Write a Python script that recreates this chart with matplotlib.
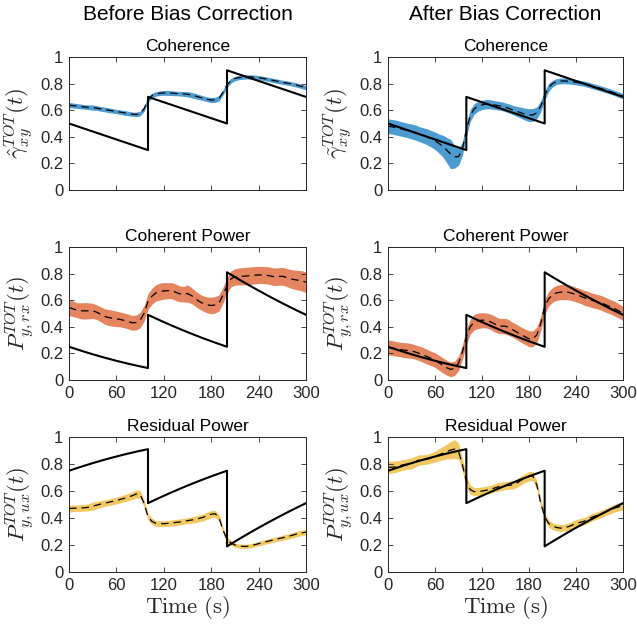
import numpy as np
import matplotlib
matplotlib.use("Agg")
import matplotlib.pyplot as plt

plt.rcParams['font.family'] = ['Liberation Sans', 'DejaVu Sans']
plt.rcParams['mathtext.fontset'] = 'cm'

# ---------------- data ----------------
t = list(range(0, 301, 5))

# ground-truth curves (time, value)
t_true = [0, 10, 20, 30, 40, 50, 60, 70, 80, 90, 100,
          100, 110, 120, 130, 140, 150, 160, 170, 180, 190, 200,
          200, 210, 220, 230, 240, 250, 260, 270, 280, 290, 300]
coh_true = [0.50, 0.48, 0.46, 0.44, 0.42, 0.40, 0.38, 0.36, 0.34, 0.32, 0.30,
            0.70, 0.68, 0.66, 0.64, 0.62, 0.60, 0.58, 0.56, 0.54, 0.52, 0.50,
            0.90, 0.88, 0.86, 0.84, 0.82, 0.80, 0.78, 0.76, 0.74, 0.72, 0.70]
cpow_true = [0.25, 0.2304, 0.2116, 0.1936, 0.1764, 0.16, 0.1444, 0.1296, 0.1156, 0.1024, 0.09,
             0.49, 0.4624, 0.4356, 0.4096, 0.3844, 0.36, 0.3364, 0.3136, 0.2916, 0.2704, 0.25,
             0.81, 0.7744, 0.7396, 0.7056, 0.6724, 0.64, 0.6084, 0.5776, 0.5476, 0.5184, 0.49]
rpow_true = [0.75, 0.7696, 0.7884, 0.8064, 0.8236, 0.84, 0.8556, 0.8704, 0.8844, 0.8976, 0.91,
             0.51, 0.5376, 0.5644, 0.5904, 0.6156, 0.64, 0.6636, 0.6864, 0.7084, 0.7296, 0.75,
             0.19, 0.2256, 0.2604, 0.2944, 0.3276, 0.36, 0.3916, 0.4224, 0.4524, 0.4816, 0.51]

# estimated means and band half-widths
coh_before = [0.638, 0.635, 0.632, 0.628, 0.624, 0.622, 0.620, 0.616, 0.610, 0.606,
              0.600, 0.595, 0.590, 0.585, 0.580, 0.575, 0.570, 0.568, 0.575, 0.610,
              0.680, 0.710, 0.722, 0.728, 0.730, 0.730, 0.728, 0.726, 0.724, 0.722,
              0.720, 0.714, 0.706, 0.698, 0.690, 0.682, 0.676, 0.678, 0.690, 0.735,
              0.790, 0.822, 0.838, 0.845, 0.848, 0.850, 0.850, 0.848, 0.845, 0.840,
              0.834, 0.828, 0.822, 0.816, 0.810, 0.805, 0.800, 0.794, 0.786, 0.778,
              0.770]
coh_before_hw = [0.020, 0.019, 0.018, 0.018, 0.017, 0.018, 0.020, 0.018, 0.017, 0.018,
                 0.018, 0.017, 0.016, 0.017, 0.018, 0.017, 0.016, 0.017, 0.018, 0.020,
                 0.020, 0.018, 0.017, 0.017, 0.018, 0.019, 0.018, 0.017, 0.017, 0.018,
                 0.020, 0.021, 0.020, 0.019, 0.018, 0.018, 0.019, 0.020, 0.020, 0.020,
                 0.020, 0.018, 0.017, 0.016, 0.016, 0.016, 0.016, 0.016, 0.016, 0.016,
                 0.016, 0.016, 0.016, 0.016, 0.016, 0.016, 0.016, 0.016, 0.016, 0.016,
                 0.016]
coh_after = [0.480, 0.475, 0.470, 0.462, 0.455, 0.448, 0.440, 0.432, 0.420, 0.410,
             0.400, 0.385, 0.370, 0.350, 0.330, 0.300, 0.270, 0.250, 0.250, 0.310,
             0.450, 0.560, 0.610, 0.630, 0.640, 0.645, 0.645, 0.640, 0.635, 0.630,
             0.622, 0.612, 0.600, 0.590, 0.580, 0.570, 0.563, 0.565, 0.580, 0.630,
             0.710, 0.770, 0.800, 0.815, 0.820, 0.820, 0.818, 0.815, 0.810, 0.805,
             0.800, 0.792, 0.783, 0.775, 0.766, 0.757, 0.748, 0.738, 0.727, 0.716,
             0.705]
coh_after_hw = [0.055, 0.055, 0.056, 0.055, 0.054, 0.055, 0.056, 0.057, 0.056, 0.058,
                0.060, 0.062, 0.066, 0.072, 0.082, 0.095, 0.110, 0.085, 0.065, 0.050,
                0.050, 0.045, 0.040, 0.037, 0.035, 0.035, 0.034, 0.033, 0.033, 0.033,
                0.033, 0.034, 0.035, 0.038, 0.042, 0.045, 0.048, 0.048, 0.045, 0.040,
                0.035, 0.030, 0.025, 0.022, 0.022, 0.021, 0.021, 0.020, 0.020, 0.020,
                0.020, 0.020, 0.020, 0.020, 0.020, 0.020, 0.020, 0.020, 0.020, 0.020,
                0.020]
cpow_before = [0.545, 0.535, 0.525, 0.520, 0.520, 0.520, 0.520, 0.510, 0.495, 0.478,
               0.470, 0.465, 0.460, 0.455, 0.448, 0.440, 0.430, 0.432, 0.450, 0.500,
               0.590, 0.630, 0.655, 0.665, 0.670, 0.672, 0.672, 0.660, 0.648, 0.645,
               0.650, 0.635, 0.612, 0.590, 0.575, 0.565, 0.560, 0.565, 0.580, 0.640,
               0.710, 0.760, 0.775, 0.778, 0.780, 0.782, 0.785, 0.788, 0.790, 0.790,
               0.788, 0.782, 0.776, 0.778, 0.780, 0.772, 0.762, 0.755, 0.750, 0.745,
               0.735]
cpow_before_hw = [0.060, 0.058, 0.056, 0.060, 0.062, 0.060, 0.057, 0.055, 0.056, 0.058,
                  0.060, 0.060, 0.058, 0.056, 0.055, 0.056, 0.055, 0.056, 0.058, 0.060,
                  0.060, 0.060, 0.062, 0.064, 0.062, 0.060, 0.060, 0.062, 0.060, 0.058,
                  0.065, 0.060, 0.058, 0.057, 0.058, 0.060, 0.062, 0.062, 0.060, 0.060,
                  0.060, 0.060, 0.062, 0.064, 0.065, 0.066, 0.066, 0.065, 0.064, 0.064,
                  0.065, 0.066, 0.066, 0.066, 0.067, 0.068, 0.070, 0.072, 0.074, 0.076,
                  0.078]
cpow_after = [0.245, 0.240, 0.235, 0.230, 0.225, 0.222, 0.218, 0.210, 0.200, 0.188,
              0.175, 0.162, 0.150, 0.130, 0.110, 0.092, 0.080, 0.088, 0.125, 0.210,
              0.325, 0.400, 0.435, 0.445, 0.450, 0.448, 0.440, 0.425, 0.410, 0.405,
              0.405, 0.392, 0.375, 0.358, 0.340, 0.325, 0.310, 0.310, 0.340, 0.425,
              0.550, 0.610, 0.640, 0.655, 0.660, 0.662, 0.660, 0.652, 0.642, 0.632,
              0.620, 0.610, 0.600, 0.592, 0.585, 0.573, 0.560, 0.548, 0.535, 0.518,
              0.500]
cpow_after_hw = [0.055, 0.056, 0.055, 0.054, 0.056, 0.057, 0.055, 0.054, 0.055, 0.056,
                 0.055, 0.054, 0.055, 0.056, 0.057, 0.056, 0.055, 0.054, 0.055, 0.056,
                 0.056, 0.056, 0.058, 0.058, 0.057, 0.056, 0.058, 0.060, 0.058, 0.056,
                 0.060, 0.058, 0.056, 0.057, 0.058, 0.058, 0.060, 0.060, 0.058, 0.056,
                 0.056, 0.055, 0.055, 0.056, 0.057, 0.058, 0.057, 0.056, 0.055, 0.055,
                 0.056, 0.056, 0.055, 0.054, 0.055, 0.056, 0.055, 0.054, 0.055, 0.054,
                 0.053]
rpow_before = [0.470, 0.472, 0.473, 0.474, 0.476, 0.480, 0.488, 0.495, 0.503, 0.510,
               0.516, 0.523, 0.530, 0.538, 0.546, 0.555, 0.565, 0.578, 0.575, 0.510,
               0.410, 0.375, 0.360, 0.358, 0.358, 0.360, 0.363, 0.367, 0.370, 0.375,
               0.380, 0.385, 0.390, 0.398, 0.405, 0.418, 0.428, 0.432, 0.400, 0.310,
               0.240, 0.215, 0.200, 0.192, 0.190, 0.190, 0.195, 0.202, 0.210, 0.218,
               0.225, 0.232, 0.240, 0.247, 0.253, 0.260, 0.268, 0.276, 0.285, 0.290,
               0.295]
rpow_before_hw = [0.026, 0.025, 0.024, 0.025, 0.025, 0.026, 0.030, 0.027, 0.025, 0.024,
                  0.024, 0.025, 0.025, 0.026, 0.026, 0.027, 0.028, 0.030, 0.030, 0.028,
                  0.025, 0.024, 0.022, 0.022, 0.022, 0.022, 0.023, 0.023, 0.022, 0.022,
                  0.022, 0.023, 0.024, 0.025, 0.026, 0.027, 0.026, 0.025, 0.024, 0.022,
                  0.020, 0.018, 0.016, 0.016, 0.016, 0.016, 0.016, 0.016, 0.017, 0.017,
                  0.017, 0.018, 0.018, 0.018, 0.019, 0.019, 0.020, 0.020, 0.020, 0.020,
                  0.020]
rpow_after = [0.775, 0.777, 0.780, 0.787, 0.795, 0.800, 0.805, 0.818, 0.830, 0.832,
              0.835, 0.845, 0.855, 0.868, 0.880, 0.892, 0.903, 0.910, 0.895, 0.795,
              0.670, 0.610, 0.595, 0.596, 0.600, 0.605, 0.610, 0.620, 0.630, 0.635,
              0.640, 0.643, 0.645, 0.660, 0.680, 0.695, 0.710, 0.710, 0.645, 0.510,
              0.410, 0.360, 0.340, 0.330, 0.325, 0.328, 0.335, 0.347, 0.360, 0.368,
              0.375, 0.390, 0.405, 0.415, 0.425, 0.437, 0.450, 0.462, 0.475, 0.483,
              0.490]
rpow_after_hw = [0.045, 0.044, 0.042, 0.040, 0.040, 0.038, 0.042, 0.040, 0.038, 0.036,
                 0.036, 0.038, 0.040, 0.045, 0.050, 0.055, 0.065, 0.070, 0.060, 0.050,
                 0.045, 0.035, 0.030, 0.030, 0.030, 0.030, 0.030, 0.030, 0.032, 0.032,
                 0.030, 0.030, 0.030, 0.032, 0.034, 0.034, 0.034, 0.034, 0.032, 0.030,
                 0.028, 0.026, 0.025, 0.025, 0.025, 0.026, 0.027, 0.028, 0.028, 0.028,
                 0.028, 0.028, 0.028, 0.028, 0.028, 0.028, 0.028, 0.028, 0.028, 0.030,
                 0.030]

col_titles = ["Before Bias Correction", "After Bias Correction"]
row_titles = ["Coherence", "Coherent Power", "Residual Power"]
ylabels = [[r"$\hat{\gamma}_{xy}^{TOT}(t)$", r"$\tilde{\gamma}_{xy}^{TOT}(t)$"],
           [r"$P_{y,rx}^{TOT}(t)$", r"$P_{y,rx}^{TOT}(t)$"],
           [r"$P_{y,ux}^{TOT}(t)$", r"$P_{y,ux}^{TOT}(t)$"]]
xticks = [0, 60, 120, 180, 240, 300]
yticks = [0, 0.2, 0.4, 0.6, 0.8, 1]
ytick_labels = ["0", "0.2", "0.4", "0.6", "0.8", "1"]

band_colors = ["#4d9cd1", "#e4855f", "#f2c863"]

panels = [
    [(coh_before, coh_before_hw, coh_true), (coh_after, coh_after_hw, coh_true)],
    [(cpow_before, cpow_before_hw, cpow_true), (cpow_after, cpow_after_hw, cpow_true)],
    [(rpow_before, rpow_before_hw, rpow_true), (rpow_after, rpow_after_hw, rpow_true)],
]

# ---------------- figure ----------------
W, H = 637, 629
fig = plt.figure(figsize=(W / 100, H / 100), dpi=100)

col_x = [(69, 306), (388, 623)]
row_y = [(57, 190), (247, 380), (437, 572)]
axis_color = "#262626"

for r in range(3):
    for c in range(2):
        x0, x1 = col_x[c]
        y0, y1 = row_y[r]
        ax = fig.add_axes([x0 / W, 1 - y1 / H, (x1 - x0) / W, (y1 - y0) / H])
        mean, hw, true = panels[r][c]
        tt = np.array(t)
        m = np.array(mean)
        h = np.array(hw)
        ax.fill_between(tt, m - h, m + h, color=band_colors[r], linewidth=0, zorder=1)
        ax.plot(tt, m, color="black", linestyle=(0, (6, 4)), linewidth=0.9, zorder=2)
        ax.plot(t_true, true, color="black", linewidth=1.5, zorder=3)
        ax.set_xlim(0, 300)
        ax.set_ylim(0, 1)
        ax.set_xticks(xticks)
        ax.set_yticks(yticks)
        ax.set_yticklabels(ytick_labels)
        if r == 0:
            ax.set_xticklabels([])
        ax.tick_params(direction="in", length=3.5, width=0.6, top=True, right=True,
                       labelsize=12, colors=axis_color, pad=4)
        for s in ax.spines.values():
            s.set_color(axis_color)
            s.set_linewidth(0.7)
        ax.set_title(row_titles[r], fontsize=12.5, pad=4, color="black")
        ax.set_ylabel(ylabels[r][c], fontsize=16.5, color=axis_color)
        ax.yaxis.set_label_coords(-0.14, 0.5)
        if r == 2:
            ax.set_xlabel(r"$\mathrm{Time\ (s)}$", fontsize=16.5, labelpad=1, color=axis_color)

for c in range(2):
    x0, x1 = col_x[c]
    fig.text((x0 + x1) / 2 / W, 1 - 15 / H, col_titles[c], ha="center", va="center",
             fontsize=15, color="black")

fig.savefig("out.png", dpi=100)
